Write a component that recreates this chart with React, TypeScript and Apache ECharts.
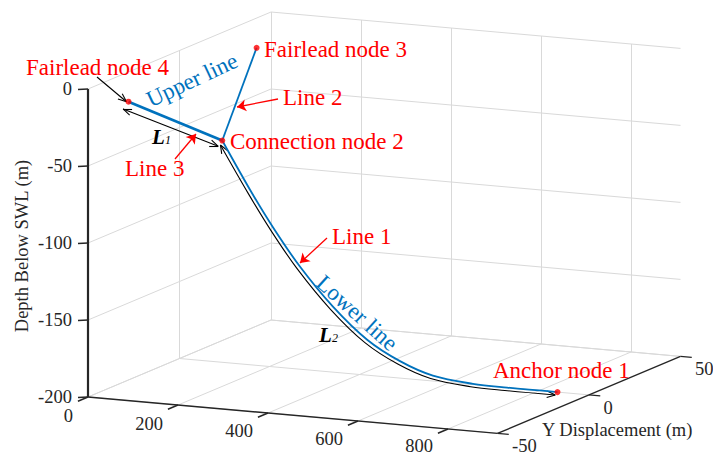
import React, { useEffect, useRef } from "react";
import * as echarts from "echarts";

// ---------------- axes ----------------
const xTicks = [0, 200, 400, 600, 800];
const yTicks = [-50, 0, 50];
const zTicks = [0, -50, -100, -150, -200];
const xLimits = [0, 910];
const yLimits = [-50, 50];
const zLimits = [-200, 0];
const zAxisTitle = "Depth Below SWL (m)";
const yAxisTitle = "Y Displacement (m)";

// ---------------- nodes (X, Y, Z) ----------------
const nodeNames = ["Anchor node 1", "Connection node 2", "Fairlead node 3", "Fairlead node 4"];
const nodeX = [840, 95, 29, 29];
const nodeY = [0, 0, 35, -35];
const nodeZ = [-200, -56, -15, -15];

// lower line (Line 1), lies in the plane Y = 0
const lowerX = [95, 157, 208, 268, 341, 417, 490, 563, 652, 728, 840];
const lowerZ = [-56, -86.5, -109.5, -133.5, -157.5, -177, -189, -196.5, -199.5, -200, -200];

// dimension line L2 (along the lower line)
const l2X = [91, 152, 203, 263, 336, 412, 485, 558, 647, 723, 835];
const l2Z = [-59, -88.5, -111.5, -135.5, -159.5, -179, -191, -198.5, -201.5, -202, -202];

// dimension line L1 (along Line 3)
const l1X = [17, 86];
const l1Y = [-35, 0];
const l1Z = [-20, -60];

// ---------------- view (projection of the 3-D box on the page) ----------------
const VIEW = { ox: 88, oy: 89, xx: 0.45, xy: 0.04, yx: 1.83, yy: -0.77, zy: -1.54 };
type P = [number, number];
function proj(x: number, y: number, z: number): P {
  return [
    VIEW.ox + VIEW.xx * (x - xLimits[0]) + VIEW.yx * (y - yLimits[0]),
    VIEW.oy + VIEW.xy * (x - xLimits[0]) + VIEW.yy * (y - yLimits[0]) + VIEW.zy * (z - zLimits[1]),
  ];
}

const FONT = '"Liberation Serif", "Times New Roman", Times, serif';
const BLUE = "#0072BD";
const RED = "#FF0000";
const AX = "#262626";

function wings(tip: P, from: P, len = 9, ang = 0.38): P[][] {
  const dx = tip[0] - from[0];
  const dy = tip[1] - from[1];
  const n = Math.hypot(dx, dy) || 1;
  const ux = dx / n;
  const uy = dy / n;
  const out: P[][] = [];
  for (const s of [ang, -ang]) {
    const c = Math.cos(s);
    const si = Math.sin(s);
    const rx = ux * c - uy * si;
    const ry = ux * si + uy * c;
    out.push([tip, [tip[0] - len * rx, tip[1] - len * ry]]);
  }
  return out;
}

function buildOption() {
  const [xMin, xMax] = xLimits;
  const [yMin, yMax] = yLimits;
  const [zMin, zMax] = zLimits;

  // grid lines on the three back planes
  const gridSegs: P[][] = [];
  for (const z of zTicks) gridSegs.push([proj(xMin, yMax, z), proj(xMax, yMax, z)]);
  for (const x of xTicks) gridSegs.push([proj(x, yMax, zMax), proj(x, yMax, zMin)]);
  for (const z of zTicks) gridSegs.push([proj(xMin, yMin, z), proj(xMin, yMax, z)]);
  for (const y of yTicks) gridSegs.push([proj(xMin, y, zMax), proj(xMin, y, zMin)]);
  for (const x of xTicks) gridSegs.push([proj(x, yMin, zMin), proj(x, yMax, zMin)]);
  for (const y of yTicks) gridSegs.push([proj(xMin, y, zMin), proj(xMax, y, zMin)]);

  // axis lines and ticks
  const axisSegs: P[][] = [];
  axisSegs.push([proj(xMin, yMin, zMin), proj(xMax, yMin, zMin)]);
  axisSegs.push([proj(xMax, yMin, zMin), proj(xMax, yMax, zMin)]);
  for (const z of zTicks) {
    const p = proj(xMin, yMin, z);
    axisSegs.push([p, [p[0] - 10, p[1] + 0.5]]);
  }
  for (const x of xTicks) axisSegs.push([proj(x, yMin, zMin), proj(x, yMin - 5.5, zMin)]);
  for (const y of yTicks) axisSegs.push([proj(xMax, y, zMin), proj(xMax + 25, y, zMin)]);

  const nodesP = nodeX.map((x, i) => proj(x, nodeY[i], nodeZ[i]));
  const anchor = nodesP[0];
  const conn = nodesP[1];
  const f3 = nodesP[2];
  const f4 = nodesP[3];

  const lowerP = lowerX.map((x, i) => proj(x, 0, lowerZ[i]));
  const l2P = l2X.map((x, i) => proj(x, 0, l2Z[i]));
  const l1P = l1X.map((x, i) => proj(x, l1Y[i], l1Z[i]));

  // black open arrow heads
  const pointerTail: P = [97, 77];
  const pointerTip: P = [f4[0] - 2, f4[1]];
  const blackSegs: P[][] = [
    [pointerTail, pointerTip],
    ...wings(pointerTip, pointerTail),
    ...wings(l1P[0], l1P[1]),
    ...wings(l1P[1], l1P[0]),
    ...wings(l2P[0], l2P[1]),
    ...wings(l2P[l2P.length - 1], l2P[l2P.length - 2]),
  ];

  // red annotation arrows (tail -> tip)
  const redArrows: P[][] = [
    [[278, 99], [237, 107]],
    [[175, 159], [196, 134]],
    [[327, 238], [300, 263]],
  ];

  const graphics: any[] = [];
  const text = (t: string, x: number, y: number, o: any = {}) =>
    graphics.push({
      type: "text",
      x,
      y,
      rotation: o.rotation || 0,
      silent: true,
      z: 100,
      style: {
        text: t,
        fill: o.fill || AX,
        fontSize: o.size || 18.5,
        fontFamily: FONT,
        fontWeight: o.weight || "normal",
        fontStyle: o.fstyle || "normal",
        align: o.align || "left",
        verticalAlign: o.va || "middle",
      },
    });

  // tick labels
  for (const z of zTicks) {
    const p = proj(xMin, yMin, z);
    text(String(z), p[0] - 16, p[1], { align: "right" });
  }
  for (const x of xTicks) {
    const p = proj(x, yMin, zMin);
    text(String(x), p[0] - 15, p[1] + 19 - x / 400, { align: "right" });
  }
  for (const y of yTicks) {
    const p = proj(xMax, y, zMin);
    text(String(y), p[0] + 14.5, p[1] + 13, { align: "left" });
  }
  text(zAxisTitle, 22, 246, { align: "center", rotation: Math.PI / 2 });
  text(yAxisTitle, 542, 430, { align: "left" });

  // annotations
  const A = { size: 23, fill: RED };
  text(nodeNames[3], 26, 67, A);
  text(nodeNames[2], 264, 49, A);
  text(nodeNames[1], 230, 141, A);
  text(nodeNames[0], 493, 370, A);
  text("Line 2", 283, 97, A);
  text("Line 3", 125, 168, A);
  text("Line 1", 332, 236, A);
  text("Upper line", 192, 80, { size: 23, fill: BLUE, align: "center", rotation: (25 * Math.PI) / 180 });
  text("Lower line", 357, 313, { size: 23, fill: BLUE, align: "center", rotation: (-42 * Math.PI) / 180 });
  text("L", 152, 137, { size: 21, fill: "#000", weight: "bold", fstyle: "italic" });
  text("1", 165, 140, { size: 12, fill: "#000", fstyle: "italic" });
  text("L", 319, 334.5, { size: 21, fill: "#000", weight: "bold", fstyle: "italic" });
  text("2", 332, 338, { size: 12, fill: "#000", fstyle: "italic" });

  return {
    animation: false,
    backgroundColor: "#ffffff",
    grid: { left: 0, top: 0, right: 0, bottom: 0, containLabel: false, outerBoundsMode: "none" },
    xAxis: { type: "value", min: 0, max: 713, show: false },
    yAxis: { type: "value", min: 0, max: 455, inverse: true, show: false },
    graphic: graphics,
    series: [
      {
        name: "grid",
        type: "lines",
        coordinateSystem: "cartesian2d",
        silent: true,
        z: 1,
        lineStyle: { color: "#d9d9d9", width: 1, opacity: 1 },
        data: gridSegs.map((c) => ({ coords: c })),
      },
      {
        name: "axes",
        type: "lines",
        coordinateSystem: "cartesian2d",
        silent: true,
        z: 3,
        lineStyle: { color: AX, width: 1.4, opacity: 1 },
        data: axisSegs.map((c) => ({ coords: c })),
      },
      {
        name: "z axis",
        type: "lines",
        coordinateSystem: "cartesian2d",
        silent: true,
        z: 3,
        lineStyle: { color: AX, width: 2.2, opacity: 1 },
        data: [{ coords: [proj(xMin, yMin, zMax), proj(xMin, yMin, zMin)] }],
      },
      {
        name: "L2",
        type: "line",
        silent: true,
        z: 4,
        symbol: "none",
        smooth: 0.35,
        lineStyle: { color: "#000", width: 1.1 },
        data: l2P,
      },
      {
        name: "L1",
        type: "line",
        silent: true,
        z: 4,
        symbol: "none",
        lineStyle: { color: "#000", width: 1.1 },
        data: l1P,
      },
      {
        name: "arrow heads",
        type: "lines",
        coordinateSystem: "cartesian2d",
        silent: true,
        z: 4,
        lineStyle: { color: "#000", width: 1.1, opacity: 1 },
        data: blackSegs.map((c) => ({ coords: c })),
      },
      {
        name: "Lower line (Line 1)",
        type: "line",
        silent: true,
        z: 5,
        symbol: "none",
        smooth: 0.35,
        lineStyle: { color: BLUE, width: 1.8 },
        data: lowerP,
      },
      {
        name: "Upper line (Line 2)",
        type: "line",
        silent: true,
        z: 5,
        symbol: "none",
        lineStyle: { color: BLUE, width: 1.8 },
        data: [f3, conn],
      },
      {
        name: "Upper line (Line 3)",
        type: "line",
        silent: true,
        z: 5,
        symbol: "none",
        lineStyle: { color: BLUE, width: 2.8 },
        data: [f4, conn],
      },
      {
        name: "red arrows",
        type: "lines",
        coordinateSystem: "cartesian2d",
        silent: true,
        z: 6,
        symbol: ["none", "arrow"],
        symbolSize: 9,
        lineStyle: { color: RED, width: 1.3, opacity: 1 },
        data: redArrows.map((c) => ({ coords: c })),
      },
      {
        name: "nodes",
        type: "scatter",
        silent: true,
        z: 7,
        symbol: "circle",
        symbolSize: 6,
        itemStyle: { color: RED },
        data: [anchor, conn, f3, f4],
      },
    ],
  };
}

export default function App() {
  const ref = useRef<HTMLDivElement | null>(null);
  useEffect(() => {
    if (!ref.current) return;
    const chart = echarts.init(ref.current, undefined, { renderer: "svg" });
    chart.setOption(buildOption() as any);
    return () => chart.dispose();
  }, []);
  return (
    <div
      ref={ref}
      style={{ position: "absolute", left: 0, top: 0, width: 713, height: 455, background: "#fff" }}
    />
  );
}
